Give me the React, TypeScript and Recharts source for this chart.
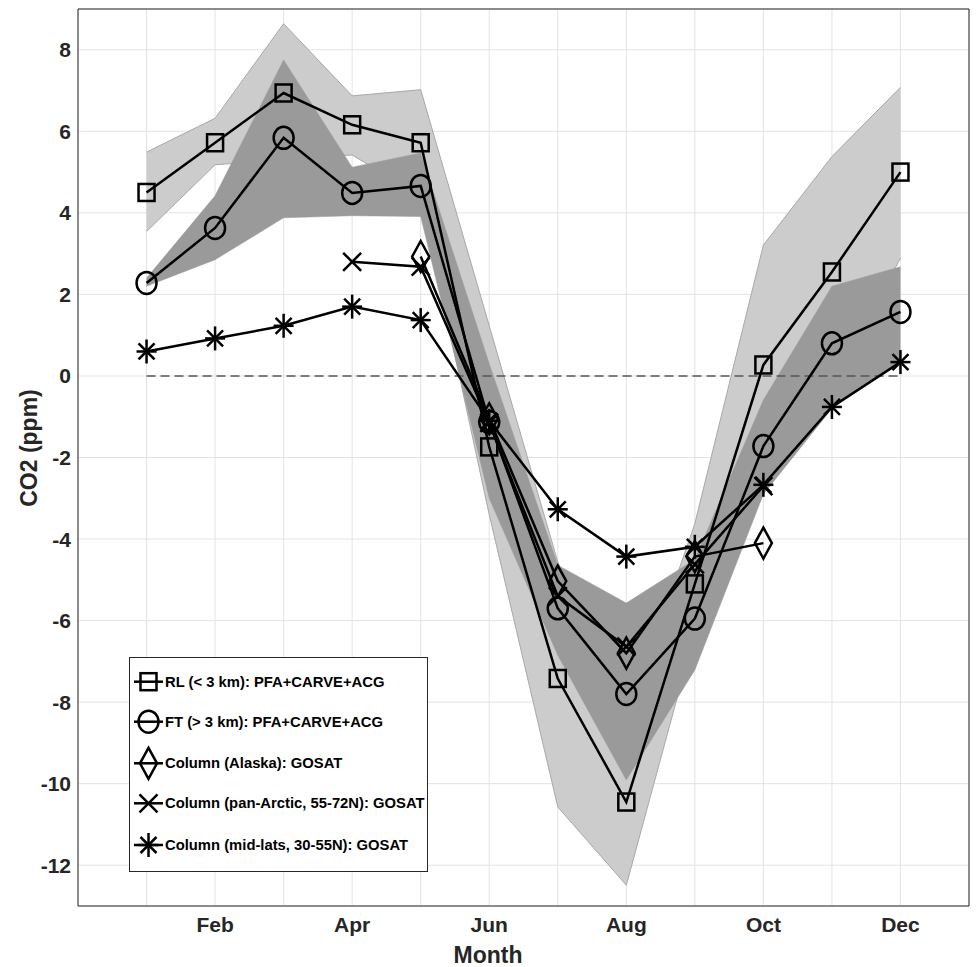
import React from 'react';
import {
  ComposedChart, Line, Area, XAxis, YAxis, CartesianGrid, ReferenceLine, Legend,
} from 'recharts';

// ---------- data ----------
const months = [1, 2, 3, 4, 5, 6, 7, 8, 9, 10, 11, 12];
const tickLabels = ['', 'Feb', '', 'Apr', '', 'Jun', '', 'Aug', '', 'Oct', '', 'Dec'];
const yTicks = [-12, -10, -8, -6, -4, -2, 0, 2, 4, 6, 8];

const rlValues = [4.5, 5.72, 6.94, 6.16, 5.72, -1.74, -7.42, -10.45, -5.1, 0.27, 2.55, 5.0];
const ftValues = [2.28, 3.63, 5.84, 4.49, 4.66, -1.13, -5.7, -7.8, -5.95, -1.72, 0.8, 1.57];
const alaskaValues = [null, null, null, null, 2.93, -1.05, -5.03, -6.8, -4.43, -4.1, null, null];
const panArcticValues = [null, null, null, 2.8, 2.68, -1.15, -5.4, -6.64, -4.62, -2.7, null, null];
const midLatValues = [0.6, 0.92, 1.23, 1.7, 1.37, -1.1, -3.27, -4.43, -4.19, -2.67, -0.76, 0.34];

const rlBandLow = [3.54, 5.18, 5.3, 5.42, 4.4, -3.4, -10.57, -12.49, -6.3, -2.6, -0.3, 2.89];
const rlBandHigh = [5.49, 6.32, 8.64, 6.87, 7.02, 1.23, -4.56, -8.49, -3.62, 3.21, 5.38, 7.08];
const ftBandLow = [2.2, 2.85, 3.88, 3.93, 3.91, -3.0, -6.85, -9.91, -7.21, -2.9, -0.8, 0.35];
const ftBandHigh = [2.4, 4.42, 7.75, 5.12, 5.47, 0.3, -4.64, -5.57, -4.5, -0.59, 2.2, 2.68];

const seriesLabels = [
  'RL (< 3 km): PFA+CARVE+ACG',
  'FT (> 3 km): PFA+CARVE+ACG',
  'Column (Alaska): GOSAT',
  'Column (pan-Arctic, 55-72N): GOSAT',
  'Column (mid-lats, 30-55N): GOSAT',
];

const chartData = months.map((m, i) => ({
  month: m,
  rl: rlValues[i],
  ft: ftValues[i],
  alaska: alaskaValues[i],
  panArctic: panArcticValues[i],
  midLat: midLatValues[i],
  rlBand: [rlBandLow[i], rlBandHigh[i]],
  ftBand: [ftBandLow[i], ftBandHigh[i]],
}));

// ---------- styles ----------
const FONT = '"Liberation Sans", Arial, Helvetica, sans-serif';
const AX = '#262626';
const SW = 2.5;

type MarkerKind = 'square' | 'circle' | 'diamond' | 'cross' | 'asterisk';

const drawMarker = (kind: MarkerKind, cx: number, cy: number) => {
  const common = { fill: 'none', stroke: '#000', strokeWidth: SW };
  switch (kind) {
    case 'square':
      return <rect x={cx - 8} y={cy - 8.5} width={16} height={17} {...common} />;
    case 'circle':
      return <ellipse cx={cx} cy={cy} rx={10} ry={11} {...common} />;
    case 'diamond':
      return (
        <polygon
          points={`${cx},${cy - 15.5} ${cx + 8.5},${cy} ${cx},${cy + 15.5} ${cx - 8.5},${cy}`}
          {...common}
          strokeLinejoin="miter"
        />
      );
    case 'cross':
      return (
        <g {...common}>
          <line x1={cx - 9} y1={cy - 9} x2={cx + 9} y2={cy + 9} />
          <line x1={cx - 9} y1={cy + 9} x2={cx + 9} y2={cy - 9} />
        </g>
      );
    case 'asterisk':
    default:
      return (
        <g {...common}>
          <line x1={cx} y1={cy - 12} x2={cx} y2={cy + 12} />
          <line x1={cx - 10} y1={cy} x2={cx + 10} y2={cy} />
          <line x1={cx - 8} y1={cy - 8} x2={cx + 8} y2={cy + 8} />
          <line x1={cx - 8} y1={cy + 8} x2={cx + 8} y2={cy - 8} />
        </g>
      );
  }
};

const makeDot = (kind: MarkerKind) => (props: any) => {
  const { cx, cy, index, value } = props;
  if (cx == null || cy == null || value == null || Number.isNaN(cx) || Number.isNaN(cy)) {
    return <g key={`e-${kind}-${index}`} />;
  }
  return <g key={`d-${kind}-${index}`}>{drawMarker(kind, cx, cy)}</g>;
};

const seriesDefs: { key: string; kind: MarkerKind }[] = [
  { key: 'rl', kind: 'square' },
  { key: 'ft', kind: 'circle' },
  { key: 'alaska', kind: 'diamond' },
  { key: 'panArctic', kind: 'cross' },
  { key: 'midLat', kind: 'asterisk' },
];

const LegendBox = () => {
  const w = 299;
  const h = 215;
  const rows = [24.7, 64.7, 106.3, 146.3, 188];
  return (
    <svg width={w} height={h} style={{ display: 'block' }}>
      <rect x={0.5} y={0.5} width={w - 1} height={h - 1} fill="#fff" stroke={AX} strokeWidth={1} />
      {seriesDefs.map((s, i) => (
        <g key={s.key}>
          <line x1={5} x2={34} y1={rows[i]} y2={rows[i]} stroke="#000" strokeWidth={SW} />
          {drawMarker(s.kind, 19.5, rows[i])}
          <text
            x={36}
            y={rows[i] + 5}
            fontFamily={FONT}
            fontWeight="bold"
            fontSize={14.8}
            fill="#000"
          >
            {seriesLabels[i]}
          </text>
        </g>
      ))}
    </svg>
  );
};

export default function App() {
  return (
    <div style={{ position: 'absolute', left: 0, top: 0, width: 976, height: 967, background: '#fff' }}>
      <ComposedChart
        width={976}
        height={967}
        data={chartData}
        margin={{ top: 9, right: 7, bottom: 0, left: 0 }}
      >
        <CartesianGrid xAxisId="x" yAxisId="y" stroke="#e3e3e3" strokeWidth={1} />
        <XAxis
          xAxisId="x"
          dataKey="month"
          type="number"
          domain={[0, 13]}
          ticks={months}
          allowDataOverflow
          interval={0}
          height={61}
          tickLine={false}
          tickSize={0}
          tickMargin={11}
          axisLine={{ stroke: AX, strokeWidth: 1 }}
          tickFormatter={(v: number) => tickLabels[v - 1] ?? ''}
          tick={{ fill: AX, fontFamily: FONT, fontWeight: 'bold', fontSize: 21 }}
          label={{
            content: () => (
              <text x={488} y={963} textAnchor="middle" fontFamily={FONT} fontWeight="bold" fontSize={23} fill={AX}>
                Month
              </text>
            ),
          }}
        />
        <XAxis xAxisId="xb" dataKey="month" type="number" domain={[0, 13]} ticks={months} allowDataOverflow
          interval={0} orientation="bottom" mirror tick={false} tickSize={9}
          tickLine={{ stroke: AX, strokeWidth: 1 }} axisLine={false} />
        <XAxis xAxisId="xt" dataKey="month" type="number" domain={[0, 13]} ticks={months} allowDataOverflow
          interval={0} orientation="top" mirror tick={false} tickSize={9}
          tickLine={{ stroke: AX, strokeWidth: 1 }} axisLine={{ stroke: AX, strokeWidth: 1 }} />
        <YAxis
          yAxisId="y"
          type="number"
          domain={[-13, 9]}
          ticks={yTicks}
          allowDataOverflow
          interval={0}
          width={78}
          tickLine={false}
          tickSize={0}
          tickMargin={7}
          axisLine={{ stroke: AX, strokeWidth: 1 }}
          tick={{ fill: AX, fontFamily: FONT, fontWeight: 'bold', fontSize: 21 }}
          label={{
            content: () => (
              <text x={29} y={448} transform="rotate(-90 29 448)" textAnchor="middle" dominantBaseline="central"
                fontFamily={FONT} fontWeight="bold" fontSize={23} fill={AX}>
                CO2 (ppm)
              </text>
            ),
          }}
        />
        <YAxis yAxisId="yl" type="number" domain={[-13, 9]} ticks={yTicks} allowDataOverflow interval={0}
          orientation="left" mirror tick={false} tickSize={9}
          tickLine={{ stroke: AX, strokeWidth: 1 }} axisLine={false} />
        <YAxis yAxisId="yr" type="number" domain={[-13, 9]} ticks={yTicks} allowDataOverflow interval={0}
          orientation="right" mirror tick={false} tickSize={9}
          tickLine={{ stroke: AX, strokeWidth: 1 }} axisLine={{ stroke: AX, strokeWidth: 1 }} />

        <Area
          xAxisId="x" yAxisId="y" dataKey="rlBand" type="linear"
          fill="#cccccc" fillOpacity={1} stroke="#a8a8a8" strokeWidth={1}
          isAnimationActive={false} dot={false} activeDot={false} legendType="none"
        />
        <Area
          xAxisId="x" yAxisId="y" dataKey="ftBand" type="linear"
          fill="#9a9a9a" fillOpacity={1} stroke="#9a9a9a" strokeWidth={0.5}
          isAnimationActive={false} dot={false} activeDot={false} legendType="none"
        />
        <ReferenceLine
          xAxisId="x" yAxisId="y"
          segment={[{ x: months[0], y: 0 }, { x: months[months.length - 1], y: 0 }]}
          stroke="#555" strokeWidth={1.6} strokeDasharray="9 5"
        />
        {seriesDefs.map((s) => (
          <Line
            key={s.key}
            xAxisId="x" yAxisId="y"
            dataKey={s.key}
            type="linear"
            stroke="#000"
            strokeWidth={SW}
            dot={makeDot(s.kind)}
            activeDot={false}
            isAnimationActive={false}
            connectNulls={false}
          />
        ))}
        <Legend
          layout="vertical"
          align="center"
          verticalAlign="middle"
          content={() => <LegendBox />}
          wrapperStyle={{ position: 'absolute', left: 129, top: 657, width: 299, height: 215, margin: 0 }}
        />
      </ComposedChart>
    </div>
  );
}
